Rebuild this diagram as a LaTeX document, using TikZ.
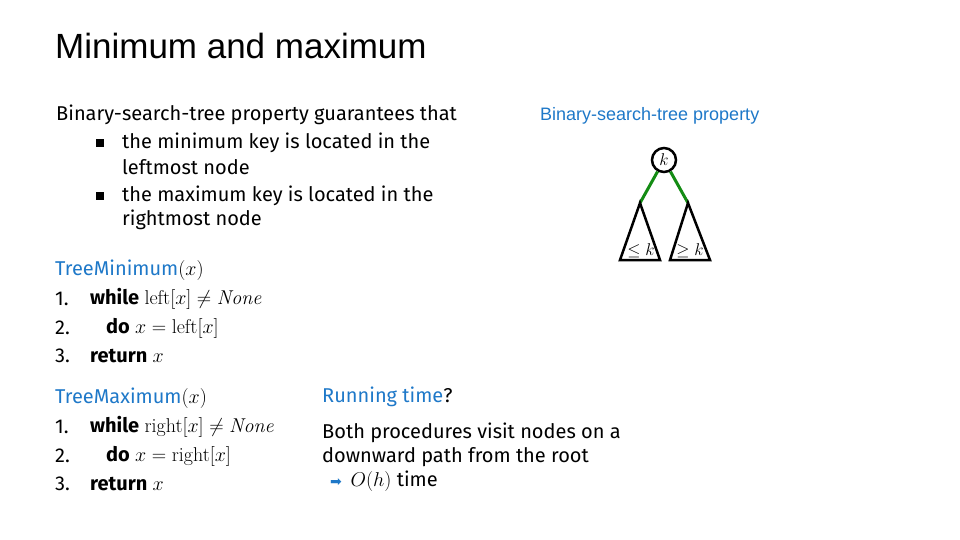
\RequirePackage{fix-cm}
\documentclass[tikz,border=0pt]{standalone}
\usepackage{fontspec}
\setmainfont{Fira Sans}
\newfontfamily\titlefont{Liberation Sans}
\newfontfamily\lmr{Latin Modern Roman}
\newcommand{\rw}[1]{\text{\lmr #1}}
\newcommand{\iw}[1]{\text{\lmr\itshape #1}}
\usepackage{amsmath}
\definecolor{lblue}{RGB}{30,120,200}
\definecolor{tgreen}{RGB}{20,140,20}
\begin{document}
\begin{tikzpicture}[x=1pt,y=-1pt,
  txt/.style={anchor=west,inner sep=0pt,font=\fontsize{20}{24}\selectfont},
  code/.style={anchor=west,inner sep=0pt,font=\fontsize{20}{24}\selectfont},
  bul/.style={anchor=center,fill=black,minimum size=8pt,inner sep=0pt}]
\useasboundingbox (0,0) rectangle (960,540);
\node[anchor=west,inner sep=0pt,font=\titlefont\fontsize{35}{40}\selectfont] (title) at (55,46) {Minimum and maximum};
\node[txt] (t0) at (56,115) {Binary-search-tree property guarantees that};
\node[bul] (b1) at (100,143) {};
\node[txt] (t1) at (122,143) {the minimum key is located in the};
\node[txt] (t1b) at (122,167) {leftmost node};
\node[bul] (b2) at (100,196) {};
\node[txt] (t2) at (122,196) {the maximum key is located in the};
\node[txt] (t2b) at (122,220) {rightmost node};
% TreeMinimum
\node[code] (m0) at (55,270) {\textcolor{lblue}{TreeMinimum}$(x)$};
\node[code] (m1n) at (55,299) {1.};
\node[code] (m1) at (90,299) {\textbf{while} $\rw{left}[x]\neq \iw{None}$};
\node[code] (m2n) at (55,328) {2.};
\node[code] (m2) at (106,328) {\textbf{do} $x=\rw{left}[x]$};
\node[code] (m3n) at (55,356) {3.};
\node[code] (m3) at (90,356) {\textbf{return} $x$};
% TreeMaximum
\node[code] (x0) at (55,398) {\textcolor{lblue}{TreeMaximum}$(x)$};
\node[code] (x1n) at (55,427) {1.};
\node[code] (x1) at (90,427) {\textbf{while} $\rw{right}[x]\neq \iw{None}$};
\node[code] (x2n) at (55,456) {2.};
\node[code] (x2) at (106,456) {\textbf{do} $x=\rw{right}[x]$};
\node[code] (x3n) at (55,484) {3.};
\node[code] (x3) at (90,484) {\textbf{return} $x$};
% running time
\node[txt] (r0) at (322,397) {\textcolor{lblue}{Running time}?};
\node[txt] (r1) at (322,433) {Both procedures visit nodes on a};
\node[txt] (r2) at (322,457) {downward path from the root};
\node[txt] (r3) at (330,481) {\textcolor{lblue}{\fontspec{DejaVu Sans}\fontsize{14}{16}\selectfont ➡}\, $O(h)$ time};
% tree
\node[anchor=west,inner sep=0pt,text=lblue,font=\titlefont\fontsize{18}{21}\selectfont] (bst) at (540,116) {Binary-search-tree property};
\node[draw,circle,line width=2.5pt,minimum size=24pt,inner sep=0pt,font=\fontsize{17}{20}\selectfont] (k) at (664,160) {$k$};
\coordinate (la) at (640,203);
\coordinate (ra) at (688,203);
\draw[tgreen,line width=3pt] (k) -- (la);
\draw[tgreen,line width=3pt] (k) -- (ra);
\draw[line width=2.5pt,line join=miter] (la) -- (660,260) -- (620,260) -- cycle;
\draw[line width=2.5pt,line join=miter] (ra) -- (710,260) -- (670,260) -- cycle;
\node[inner sep=0pt,anchor=south,font=\fontsize{17}{20}\selectfont] (lk) at (641,258) {$\leq k$};
\node[inner sep=0pt,anchor=south,font=\fontsize{17}{20}\selectfont] (rk) at (690,258) {$\geq k$};
\end{tikzpicture}
\end{document}
